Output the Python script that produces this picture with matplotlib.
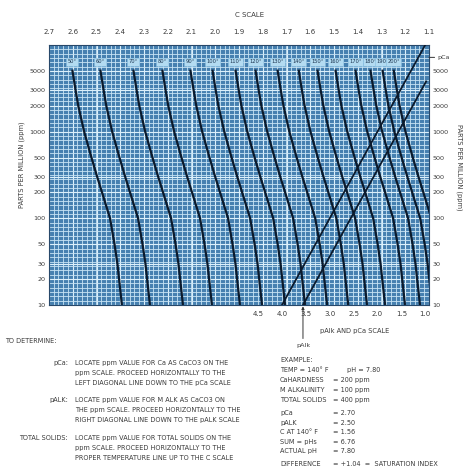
import numpy as np
import matplotlib
matplotlib.use('Agg')
import matplotlib.pyplot as plt

# C scale along the top
c_ticks = [2.7, 2.6, 2.5, 2.4, 2.3, 2.2, 2.1, 2.0, 1.9, 1.8, 1.7, 1.6, 1.5, 1.4, 1.3, 1.2, 1.1]
# pAlk / pCa scale along the bottom
p_ticks = [4.5, 4.0, 3.5, 3.0, 2.5, 2.0, 1.5, 1.0]
ppm_ticks = [10, 20, 30, 50, 100, 200, 300, 500, 1000, 2000, 3000, 5000]

# temperature lines (deg F): C value read at 10 ppm total solids
temps = [50, 60, 70, 80, 90, 100, 110, 120, 130, 140, 150, 160, 170, 180, 190, 200]
c_at_10ppm = [2.393, 2.275, 2.136, 2.014, 1.896, 1.803, 1.706, 1.622, 1.529,
              1.440, 1.361, 1.285, 1.201, 1.138, 1.087, 1.040]
# shape of every temperature line: rise of C with total solids
tds_ppm = [10, 20, 30, 50, 100, 200, 300, 500, 1000, 2000, 3000, 5200]
tds_dc = [0.0, 0.012, 0.019, 0.031, 0.050, 0.084, 0.104, 0.128, 0.159, 0.184, 0.195, 0.209]

# diagonal lines on the p scale
pca_ppm = [10, 10000]
pca_p = [4.0, 1.0]
palk_ppm = [10, 3800]
palk_p = [3.56, 0.98]

W, H = 463, 469
def fx(x):
    return x / W
def fy(y):
    return 1 - y / H

txt = '#3a3a3a'
fs = 4.7

fig = plt.figure(figsize=(W / 100, H / 100), dpi=100)
fig.patch.set_facecolor('white')
ax = fig.add_axes([fx(49), fy(305), fx(429) - fx(49), fy(45) - fy(305)])
ax.set_facecolor('#4680b0')
ax.set_yscale('log')
ax.set_xlim(2.7, 1.1)
ax.set_ylim(10, 10000)

# chart paper grid
xs = np.arange(1.1, 2.701, 0.02)
ax.vlines(xs, 10, 10000, colors='#c8e4f5', lw=0.6, zorder=1)
ax.vlines(c_ticks, 10, 10000, colors='#dcf0fb', lw=0.8, zorder=1)
ys = 10 ** np.arange(1, 4.001, 0.05)
ax.hlines(ys, 2.7, 1.1, colors='#c8e4f5', lw=0.6, zorder=1)
ax.hlines(ppm_ticks, 2.7, 1.1, colors='#dcf0fb', lw=0.8, zorder=1)

for t, c0 in zip(temps, c_at_10ppm):
    cs = [c0 + d for d in tds_dc]
    ax.plot(cs, tds_ppm, color='#0b1a2c', lw=1.6, zorder=3, solid_capstyle='butt')
    ax.text(c0 + tds_dc[-1], 6400, '%d°' % t, ha='center', va='center', fontsize=3.7,
            color='#1d3550', zorder=4,
            bbox=dict(boxstyle='square,pad=0.25', fc='#b3dbf1', ec='#86bde0', lw=0.4))

ax.set_yticks(ppm_ticks)
ax.set_yticklabels([str(v) for v in ppm_ticks])
ax.yaxis.set_minor_locator(matplotlib.ticker.NullLocator())
ax.tick_params(axis='y', length=0, pad=2.5, labelsize=4.6, labelcolor=txt,
               left=True, right=True, labelleft=True, labelright=True)
for s in ax.spines.values():
    s.set_color('#27486a')
    s.set_linewidth(0.8)

# p scale axis for the two diagonals
ax2 = ax.twiny()
ax2.set_xlim(8.88, 0.92)
ax2.xaxis.tick_bottom()
ax2.set_xticks(p_ticks)
ax2.set_xticklabels(['%.1f' % p for p in p_ticks])
ax2.tick_params(axis='x', length=0, pad=4, labelsize=5, labelcolor=txt)
for s in ax2.spines.values():
    s.set_visible(False)
ax2.plot(pca_p, pca_ppm, color='#0b1a2c', lw=1.3, zorder=3)
ax2.plot(palk_p, palk_ppm, color='#0b1a2c', lw=1.3, zorder=3)

# C scale on top (after twiny, which moves the ticks)
ax.xaxis.tick_top()
ax.set_xticks(c_ticks)
ax.set_xticklabels(['%.1f' % c for c in c_ticks])
ax.tick_params(axis='x', length=0, pad=7, labelsize=5, labelcolor=txt,
               top=True, bottom=False, labeltop=True, labelbottom=False)

ax.annotate('pCa', xy=(1.0, 7200), xycoords=('axes fraction', 'data'),
            xytext=(1.022, 7200), textcoords=('axes fraction', 'data'),
            ha='left', va='center', fontsize=4.6, color=txt, annotation_clip=False,
            arrowprops=dict(arrowstyle='-', lw=0.7, color='#333333', shrinkA=0, shrinkB=0))
ax2.annotate('pAlk', xy=(palk_p[0], 0.0), xycoords=('data', 'axes fraction'),
             xytext=(palk_p[0], -0.145), textcoords=('data', 'axes fraction'),
             ha='center', va='top', fontsize=4.6, color=txt, annotation_clip=False,
             arrowprops=dict(arrowstyle='-|>', lw=0.7, color='#333333',
                             mutation_scale=4, shrinkA=1, shrinkB=1))

fig.text(fx(250), fy(15), 'C SCALE', ha='center', va='center', fontsize=5, color=txt)
fig.text(fx(355), fy(331), 'pAlk AND pCa SCALE', ha='center', va='center', fontsize=4.8, color=txt)
fig.text(fx(22), fy(165), 'PARTS PER MILLION (ppm)', rotation=90, ha='center', va='center',
         fontsize=4.8, color=txt)
fig.text(fx(459), fy(167), 'PARTS PER MILLION (ppm)', rotation=270, ha='center', va='center',
         fontsize=4.8, color=txt)

# instructions
fig.text(fx(5), fy(341), 'TO DETERMINE:', ha='left', va='center', fontsize=fs, color=txt)
blocks = [
    ('pCa:', 363, ['LOCATE ppm VALUE FOR Ca AS CaCO3 ON THE',
                   'ppm SCALE. PROCEED HORIZONTALLY TO THE',
                   'LEFT DIAGONAL LINE DOWN TO THE pCa SCALE']),
    ('pALK:', 400, ['LOCATE ppm VALUE FOR M ALK AS CaCO3 ON',
                    'THE ppm SCALE. PROCEED HORIZONTALLY TO THE',
                    'RIGHT DIAGONAL LINE DOWN TO THE pALK SCALE']),
    ('TOTAL SOLIDS:', 438, ['LOCATE ppm VALUE FOR TOTAL SOLIDS ON THE',
                            'ppm SCALE. PROCEED HORIZONTALLY TO THE',
                            'PROPER TEMPERATURE LINE UP TO THE C SCALE']),
]
for head, y0, lines in blocks:
    fig.text(fx(68), fy(y0), head, ha='right', va='center', fontsize=fs, color=txt)
    for i, line in enumerate(lines):
        fig.text(fx(75), fy(y0 + i * 10), line, ha='left', va='center', fontsize=fs, color=txt)

# worked example
fig.text(fx(280), fy(360), 'EXAMPLE:', ha='left', va='center', fontsize=fs, color=txt)
fig.text(fx(280), fy(370), 'TEMP = 140° F', ha='left', va='center', fontsize=fs, color=txt)
fig.text(fx(347), fy(370), 'pH = 7.80', ha='left', va='center', fontsize=fs, color=txt)
example = [
    ('CaHARDNESS', '= 200 ppm', 380),
    ('M ALKALINITY', '= 100 ppm', 390),
    ('TOTAL SOLIDS', '= 400 ppm', 400),
    ('pCa', '= 2.70', 413),
    ('pALK', '= 2.50', 423),
    ('C AT 140° F', '= 1.56', 432),
    ('SUM = pHs', '= 6.76', 442),
    ('ACTUAL pH', '= 7.80', 451),
    ('DIFFERENCE', '= +1.04  =  SATURATION INDEX', 464),
]
for name, val, y0 in example:
    fig.text(fx(280), fy(y0), name, ha='left', va='center', fontsize=fs, color=txt)
    fig.text(fx(333), fy(y0), val, ha='left', va='center', fontsize=fs, color=txt)

fig.savefig('out.png', dpi=100)
